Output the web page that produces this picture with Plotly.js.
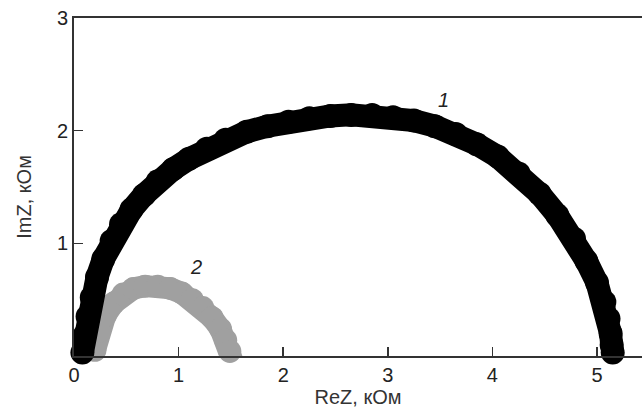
<!DOCTYPE html>
<html>
<head>
<meta charset="utf-8">
<script src="https://cdn.plot.ly/plotly-3.0.1.min.js"></script>
<style>html,body{margin:0;padding:0;background:#fff;}#chart{width:642px;height:413px;}</style>
</head>
<body>
<div id="chart"></div>
<script>
// Curve 1 (black): ReZ, ImZ in kOhm
const reZ1 = [0.08, 0.10, 0.13, 0.17, 0.22, 0.28, 0.36, 0.45, 0.55, 0.67, 0.80, 0.95, 1.10, 1.27, 1.45, 1.65, 1.85, 2.05, 2.25, 2.45, 2.65, 2.85, 3.05, 3.25, 3.45, 3.65, 3.85, 4.05, 4.25, 4.45, 4.62, 4.78, 4.90, 5.00, 5.07, 5.11, 5.13, 5.14, 5.15];
const imZ1 = [0.03, 0.18, 0.35, 0.52, 0.70, 0.86, 1.02, 1.17, 1.30, 1.43, 1.55, 1.66, 1.75, 1.84, 1.92, 1.99, 2.04, 2.08, 2.11, 2.13, 2.14, 2.14, 2.12, 2.09, 2.04, 1.97, 1.88, 1.77, 1.62, 1.44, 1.25, 1.04, 0.84, 0.65, 0.48, 0.33, 0.20, 0.10, 0.03];
// Curve 2 (grey)
const reZ2 = [0.20, 0.24, 0.30, 0.38, 0.47, 0.57, 0.68, 0.80, 0.92, 1.03, 1.13, 1.23, 1.32, 1.40, 1.45, 1.49, 1.51, 1.53];
const imZ2 = [0.05, 0.22, 0.36, 0.47, 0.55, 0.60, 0.62, 0.62, 0.60, 0.56, 0.50, 0.43, 0.34, 0.24, 0.14, 0.04, -0.04, -0.08];
const xTicks = [0, 1, 2, 3, 4, 5];
const yTicks = [1, 2, 3];
const curveLabels = ['1', '2'];

const traces = [
  {x: reZ2, y: imZ2, mode: 'lines+markers', cliponaxis: false,
   line: {color: '#a0a0a0', width: 22}, marker: {color: '#a0a0a0', size: 23}},
  {x: reZ1, y: imZ1, mode: 'lines+markers', cliponaxis: false,
   line: {color: '#000000', width: 23}, marker: {color: '#000000', size: 24}}
];

const fam = 'Liberation Sans, Arial, sans-serif';
const tickFont = {family: fam, color: '#222', size: 20};
const titleFont = {family: fam, color: '#333', size: 20};
const layout = {
  width: 642, height: 413,
  margin: {l: 74, r: 0, t: 18, b: 57, pad: 0},
  showlegend: false,
  paper_bgcolor: '#fff', plot_bgcolor: '#fff',
  font: tickFont,
  xaxis: {range: [0, 5.43], tickvals: xTicks, ticktext: xTicks.map(String),
    ticks: 'inside', ticklen: 9, tickwidth: 1.5, tickcolor: '#333',
    showline: true, mirror: true, linecolor: '#333', linewidth: 2,
    showgrid: false, zeroline: false, tickfont: tickFont,
    title: {text: 'ReZ, кОм', font: titleFont, standoff: 2}},
  yaxis: {range: [0, 3], tickvals: yTicks, ticktext: yTicks.map(String),
    ticks: 'inside', ticklen: 9, tickwidth: 1.5, tickcolor: '#333',
    showline: true, mirror: false, linecolor: '#333', linewidth: 2,
    showgrid: false, zeroline: false, tickfont: tickFont},
  annotations: [
    {xref: 'x', yref: 'y', x: 3.53, y: 2.27, text: '<i>' + curveLabels[0] + '</i>', showarrow: false, font: tickFont},
    {xref: 'x', yref: 'y', x: 1.17, y: 0.79, text: '<i>' + curveLabels[1] + '</i>', showarrow: false, font: tickFont},
    {xref: 'paper', yref: 'paper', x: -0.087, y: 0.47, xanchor: 'center', yanchor: 'middle',
     text: 'ImZ, кОм', textangle: -90, showarrow: false, font: titleFont}
  ]
};
Plotly.newPlot('chart', traces, layout, {displayModeBar: false, staticPlot: true});
</script>
</body>
</html>
